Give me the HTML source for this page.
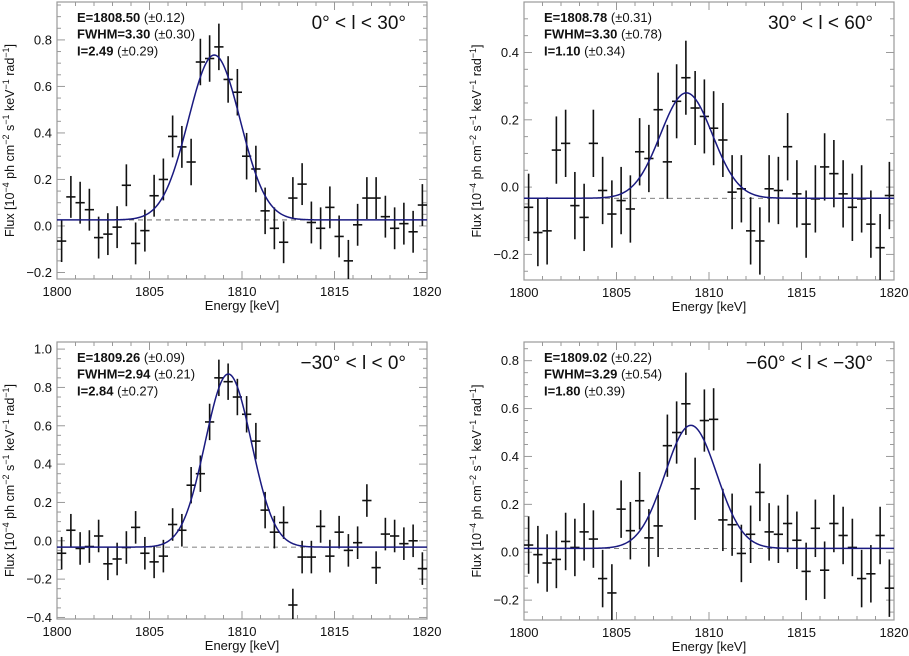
<!DOCTYPE html>
<html><head><meta charset="utf-8">
<style>
html,body{margin:0;padding:0;background:#fff;}
svg{display:block;font-family:"Liberation Sans",sans-serif;}
</style></head>
<body>
<svg id="fig" width="909" height="656" viewBox="0 0 909 656" xmlns="http://www.w3.org/2000/svg"></svg>
<script>
const bins = [];
for (let i = 0; i < 40; i++) bins.push(1800.25 + 0.5 * i);
const p1Flux = [-0.065,0.125,0.10,0.07,-0.05,-0.035,-0.005,0.175,-0.075,-0.02,0.13,0.20,0.385,0.34,0.275,0.705,0.72,0.77,0.63,0.575,0.30,0.245,0.065,-0.01,-0.07,0.12,0.18,0.015,-0.01,0.08,-0.045,-0.15,0.005,0.12,0.12,0.04,-0.01,0.01,-0.025,0.09];
const p2Flux = [-0.06,-0.135,-0.13,0.11,0.13,-0.055,-0.09,0.13,-0.01,-0.08,-0.04,-0.065,0.105,0.085,0.23,0.075,0.255,0.325,0.235,0.21,0.175,0.14,-0.015,-0.005,-0.13,-0.16,-0.005,-0.01,0.12,-0.02,-0.11,-0.035,0.06,0.04,-0.02,-0.06,-0.035,-0.11,-0.18,-0.025];
const p3Flux = [-0.065,0.055,-0.04,-0.03,0.025,-0.12,-0.095,-0.035,0.07,-0.065,-0.11,-0.08,0.085,0.055,0.29,0.35,0.62,0.85,0.83,0.75,0.66,0.52,0.16,0.045,0.095,-0.335,-0.085,-0.085,0.075,-0.08,0.045,-0.05,-0.01,0.21,-0.14,0.035,0.025,-0.015,0.0,-0.145];
const p4Flux = [0.03,-0.01,-0.045,-0.03,0.045,0.02,0.085,0.055,-0.11,-0.17,0.18,0.09,0.215,0.06,0.11,0.445,0.5,0.62,0.265,0.55,0.555,0.135,0.115,-0.005,0.075,0.25,0.085,0.075,0.12,0.05,-0.08,0.1,-0.075,0.12,0.07,0.02,-0.11,-0.09,0.07,-0.15];
const errs = [0.09,0.10,0.085,0.12];
const peakErrs = [0.10,0.11,0.095,0.13];
const fitE = [1808.50,1808.78,1809.26,1809.02];
const fitFWHM = [3.30,3.30,2.94,3.29];
const fitBase = [0.026,-0.033,-0.033,0.016];
const fitPeak = [0.735,0.28,0.87,0.53];
const yTicks = [[-0.2,0.0,0.2,0.4,0.6,0.8],[-0.2,0.0,0.2,0.4],[-0.4,-0.2,0.0,0.2,0.4,0.6,0.8,1.0],[-0.2,0.0,0.2,0.4,0.6,0.8]];
const yRanges = [[-0.228,0.963],[-0.276,0.55],[-0.408,1.037],[-0.283,0.878]];
const xTicks = [1800,1805,1810,1815,1820];
const annotE = ["E=1808.50","E=1808.78","E=1809.26","E=1809.02"];
const annotEerr = ["(±0.12)","(±0.31)","(±0.09)","(±0.22)"];
const annotW = ["FWHM=3.30","FWHM=3.30","FWHM=2.94","FWHM=3.29"];
const annotWerr = ["(±0.30)","(±0.78)","(±0.21)","(±0.54)"];
const annotI = ["I=2.49","I=1.10","I=2.84","I=1.80"];
const annotIerr = ["(±0.29)","(±0.34)","(±0.27)","(±0.39)"];
const titles = ["0° < l < 30°","30° < l < 60°","−30° < l < 0°","−60° < l < −30°"];
const fluxes = [p1Flux,p2Flux,p3Flux,p4Flux];
const boxes = [[57,2,427,279],[524,2,894,280],[57,342,427,619],[524,342,894,620]];
const svg = document.getElementById('fig');
const NS = 'http://www.w3.org/2000/svg';
function mk(tag, attrs, parent){const e=document.createElementNS(NS,tag);for(const k in attrs)e.setAttribute(k,attrs[k]);parent.appendChild(e);return e;}
for (let p = 0; p < 4; p++) {
  const [L,T,R,B] = boxes[p];
  const [y0,y1] = yRanges[p];
  const xs = v => L + (v - 1800) / 20 * (R - L);
  const ys = v => B - (v - y0) / (y1 - y0) * (B - T);
  const g = mk('g', {}, svg);
  
  
  // ticks
  const tk = mk('g', {stroke:'#999','stroke-width':1}, g);
  
  
  for (let v = 1800; v <= 1820; v++) {
    const len = v % 5 === 0 ? 8 : 4;
    mk('line',{x1:xs(v),x2:xs(v),y1:B,y2:B-len},tk);
    mk('line',{x1:xs(v),x2:xs(v),y1:T,y2:T+len},tk);
  }
  const step = yTicks[p][1]-yTicks[p][0];
  for (let v = yTicks[p][0]-step; v <= y1+1e-9; v += step/4) {
    if (v < y0) continue;
    const isMaj = yTicks[p].some(t => Math.abs(t - v) < 1e-6);
    const len = isMaj ? 8 : 4;
    mk('line',{x1:L,x2:L+len,y1:ys(v),y2:ys(v)},tk);
    mk('line',{x1:R,x2:R-len,y1:ys(v),y2:ys(v)},tk);
  }
  const box = mk('rect',{x:L,y:T,width:R-L,height:B-T,fill:'none',stroke:'#999','stroke-width':1.2},g);
  
  
  // tick labels
  xTicks.forEach(v => {
    const t = mk('text',{x:xs(v),y:B+17,'font-size':13,'text-anchor':'middle',fill:'#111'},g);
    t.textContent = v;
    
    
  });
  yTicks[p].forEach(v => {
    const t = mk('text',{x:L-5,y:ys(v)+4.5,'font-size':13,'text-anchor':'end',fill:'#111'},g);
    t.textContent = (v < 0 ? '−' : '') + Math.abs(v).toFixed(1);
    
    
  });
  const xt = mk('text',{x:(L+R)/2,y:B+31,'font-size':13,'text-anchor':'middle',fill:'#111'},g);
  xt.textContent = 'Energy [keV]';
  
  
  const yc = (T+B)/2, yx = L-43;
  const yt = mk('text',{x:yx,y:yc,'font-size':12.5,'text-anchor':'middle',fill:'#111',transform:`rotate(-90 ${yx} ${yc})`},g);
  yt.innerHTML = 'Flux [10<tspan dy="-5" font-size="9">−4</tspan><tspan dy="5"> ph cm</tspan><tspan dy="-5" font-size="9">−2</tspan><tspan dy="5"> s</tspan><tspan dy="-5" font-size="9">−1</tspan><tspan dy="5"> keV</tspan><tspan dy="-5" font-size="9">−1</tspan><tspan dy="5"> rad</tspan><tspan dy="-5" font-size="9">−1</tspan><tspan dy="5">]</tspan>';
  
  
  // baseline dashed
  const bl = mk('line',{x1:L,x2:R,y1:ys(fitBase[p]),y2:ys(fitBase[p]),stroke:'#555','stroke-width':0.8,'stroke-dasharray':'5,4'},g);
  
  
  // data points
  const dg = mk('g',{stroke:'#111','stroke-width':1.6},g);
  
  
  fluxes[p].forEach((v,i) => {
    const e = (i >= 14 && i <= 22) ? peakErrs[p] : errs[p];
    const x = bins[i];
    const top = Math.max(ys(v+e), T), bot = Math.min(ys(v-e), B);
    mk('line',{x1:xs(x),x2:xs(x),y1:top,y2:bot},dg);
    mk('line',{x1:xs(x-0.25),x2:xs(x+0.25),y1:ys(v),y2:ys(v)},dg);
  });
  // fit
  const sig = fitFWHM[p]/2.3548;
  let d = '';
  for (let k = 0; k <= 400; k++) {
    const x = 1800 + 20*k/400;
    const y = fitBase[p] + (fitPeak[p]-fitBase[p])*Math.exp(-0.5*((x-fitE[p])/sig)**2);
    d += (k ? 'L' : 'M') + xs(x).toFixed(2) + ',' + ys(y).toFixed(2);
  }
  const fp = mk('path',{d:d,fill:'none',stroke:'#1a1a80','stroke-width':1.5},g);
  
  
  // annotations
  const lines = [[annotE[p],annotEerr[p]],[annotW[p],annotWerr[p]],[annotI[p],annotIerr[p]]];
  lines.forEach((ln,j) => {
    const t = mk('text',{x:L+20,y:T+20+16.7*j,'font-size':13,fill:'#111'},g);
    t.innerHTML = `<tspan font-weight="bold">${ln[0]}</tspan> ${ln[1]}`;
    
    
  });
  const tt = mk('text',{x:R-21,y:T+27,'font-size':19,'text-anchor':'end',fill:'#111'},g);
  tt.textContent = titles[p];
  
  
}
</script>
</body></html>
